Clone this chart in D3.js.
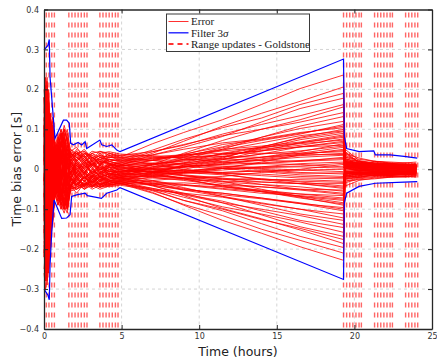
<!DOCTYPE html>
<html>
<head>
<meta charset="utf-8">
<script src="https://cdn.jsdelivr.net/npm/d3@7"></script>
<style>
  body { margin: 0; background: #fff; }
  svg text { font-family: "DejaVu Sans", sans-serif; }
</style>
</head>
<body>
<div id="chart"></div>
<script>
// time grid (hours) shared by every Monte Carlo run
var timeGrid = [0, 0.1, 0.2, 0.3, 0.4, 0.55, 0.7, 0.9, 1.1, 1.3, 1.5, 1.7, 2.1, 2.6, 3.1, 3.6, 4.2, 4.9,
                7, 9, 11.5, 14, 16.5, 19.3,
                19.4, 20.3, 21.3, 22.3, 23.3, 24];

// time bias error of each run, in milliseconds, at the times above
var errorRuns = [
  [40,180,120,60,90,40,-20,30,60,80,40,20,30,10,25,35,30,30, 64,92,124,162,202,236, 50,22,15,10,12,8],
  [-60,-150,-200,-120,-60,-20,30,-40,-10,30,-20,10,-15,5,20,-10,10,15, 40,70,108,140,170,206, 40,18,12,14,9,6],
  [100,210,150,90,110,60,20,60,80,100,70,35,40,25,10,30,20,25, 48,75,104,128,162,190, 30,25,20,16,14,10],
  [-120,-230,-160,-80,-120,-90,-40,-70,-30,-60,-40,-20,-10,-30,-5,-15,0,10, 36,55,82,118,152,178, 45,15,10,8,6,4],
  [20,90,200,140,40,-50,0,50,90,40,10,45,20,40,30,10,35,20, 44,60,88,112,134,162, 20,10,18,12,8,10],
  [-30,60,-80,-180,-100,-60,-10,-50,-70,-30,-60,-30,-40,-20,-35,-20,-25,-10, 12,40,72,100,124,156, 35,20,14,12,10,8],
  [150,230,100,40,130,100,50,20,-20,10,50,30,45,30,40,45,35,35, 44,62,84,100,118,142, 15,8,5,3,0,2],
  [-200,-280,-250,-150,-40,20,40,-30,-70,-90,-50,-25,-30,-45,-20,-40,-30,-20, 6,25,50,80,108,132, 28,12,20,15,10,12],
  [60,-40,40,150,60,0,-30,60,40,-10,30,5,20,35,10,25,15,5, 24,38,56,80,102,120, 10,5,-2,0,4,2],
  [-80,40,-10,-90,-150,-110,-60,-20,40,70,20,-10,0,-20,-30,-5,-10,-5, 10,30,54,72,88,112, 22,16,10,6,8,5],
  [10,120,170,100,20,-40,10,70,100,60,0,40,30,15,40,20,40,30, 36,50,66,76,92,104, 18,10,6,-4,-2,0],
  [-140,-200,-100,-30,-80,-120,-50,-10,-50,-80,-90,-40,-50,-30,-45,-25,-35,-30, -12,10,28,55,80,100, 25,20,12,10,6,8],
  [80,150,50,-40,40,80,60,40,-10,-40,20,50,40,45,20,40,20,12, 28,35,48,66,84,96, 12,6,4,2,0,-2],
  [-20,-100,-180,-90,0,40,-20,-60,-20,30,60,15,-20,0,-20,10,-15,-12, 4,14,30,52,74,90, -5,-3,2,-4,-6,-3],
  [0,60,100,200,110,70,0,20,70,110,80,30,45,20,30,15,25,18, 22,34,50,58,68,86, 8,-2,-6,-8,-10,-6],
  [-100,-160,-220,-260,-160,-70,-30,20,-30,-60,-20,-45,-15,-40,-15,-30,-10,-22, -8,10,24,46,66,80, 16,12,8,6,4,6],
  [120,200,160,80,-20,-80,-40,-70,-90,-50,-30,0,10,30,5,-20,10,0, 14,20,32,50,60,76, -12,-8,-4,-6,-4,-2],
  [-50,20,100,20,-60,-30,30,80,50,0,40,20,-10,20,-10,0,-5,8, 12,25,38,46,56,70, 6,2,-4,0,3,1],
  [30,-80,-150,-220,-130,-140,-60,-40,0,-20,-80,-35,-25,-10,-30,-20,-35,-28, -10,0,18,30,44,64, 20,14,12,8,10,8],
  [200,150,60,0,70,120,70,30,60,90,50,10,25,0,15,30,25,22, 30,30,36,46,56,60, -8,-10,-12,-8,-10,-8],
  [-180,-240,-130,-40,30,-20,-50,10,70,40,-10,-20,5,-25,0,-15,5,-15, -2,5,20,30,40,55, 2,0,-2,2,-1,0],
  [50,140,210,170,100,20,-20,-50,-80,-100,-60,-30,-40,-20,-40,-45,-40,-35, -18,-10,2,18,36,50, 14,18,12,14,12,10],
  [-40,-120,-60,40,140,90,40,60,20,50,90,50,35,50,25,45,40,34, 32,36,40,40,40,44, -15,-12,-8,-10,-12,-10],
  [90,30,-60,-130,-30,50,0,-30,30,60,10,-15,10,-10,20,-5,15,-6, 2,6,12,24,34,40, 4,6,8,4,6,4],
  [-250,-200,-100,-180,-90,-30,20,40,80,20,-40,25,50,35,5,20,-20,10, 16,15,16,22,30,35, -4,-6,-10,-6,-4,-5],
  [150,80,0,60,140,60,-30,-80,-40,0,-70,-20,-35,-50,-25,-40,-30,-18, -16,-6,6,14,20,30, 12,8,6,10,6,8],
  [-70,0,80,130,50,-70,-50,0,50,100,70,40,20,40,35,10,30,26, 22,24,26,22,20,24, -10,-14,-8,-12,-8,-6],
  [20,-60,-200,-140,-50,10,50,90,40,-30,-10,5,-25,-5,-35,-10,-20,-16, -8,-6,2,6,14,18, 6,2,0,2,-2,-1],
  [-160,-90,20,-60,-140,-80,10,-20,-60,-100,-70,-50,-45,-35,-40,-50,-42,-38, -28,-22,-18,-8,0,12, 16,10,14,12,8,9],
  [100,200,230,120,30,-40,-60,-90,-60,-20,30,45,55,30,45,40,44,38, 34,26,18,14,12,6, -18,-10,-6,-8,-9,-7],
  [-20,100,40,-100,-150,-90,-20,40,90,70,20,-10,15,-15,10,5,0,-4, -6,-3,2,2,-2,0, 3,-4,2,-2,0,1],
  [60,-30,-120,-60,60,110,60,20,-40,-80,-40,-40,-20,-30,-15,-25,-10,-14, -10,-10,-8,-4,-2,-6, 10,4,-2,2,4,2],
  [-90,-180,-260,-200,-120,-60,-50,-80,-40,10,-20,20,40,25,40,30,34,30, 22,12,4,0,-8,-12, -20,-16,-12,-14,-12,-10],
  [180,100,40,-30,10,70,30,-20,30,80,100,40,20,40,20,25,12,16, 8,6,2,-6,-14,-18, 8,12,4,6,2,4],
  [-40,40,150,80,-20,-100,-60,-20,40,20,60,30,0,10,-5,-10,5,-2, -6,-8,-10,-16,-22,-24, -6,-2,-6,-4,-6,-5],
  [-130,-60,30,-20,-80,-20,40,80,60,30,-30,10,-10,-30,-15,-30,-15,-20, -18,-22,-26,-26,-26,-30, 18,14,10,12,10,12],
  [70,160,80,0,80,130,70,50,10,-40,-80,-50,-35,-20,-40,-20,-28,-24, -22,-26,-30,-32,-36,-36, -14,-8,-10,-6,-10,-8],
  [-210,-130,-60,-120,-200,-130,-40,-60,-90,-60,-10,-25,10,-10,15,0,12,4, 0,-8,-14,-24,-32,-42, 0,6,2,4,2,2],
  [30,-40,60,180,100,0,-40,-10,20,80,60,15,30,15,20,35,20,24, 14,0,-12,-26,-36,-48, -24,-18,-14,-16,-14,-12],
  [-60,-160,-90,-20,-100,-50,20,60,90,60,20,-30,-10,20,-10,5,-5,-10, -14,-22,-32,-38,-44,-55, 12,8,6,8,6,6],
  [130,60,-40,-100,-40,30,60,-10,-60,-30,30,35,15,-5,15,-10,6,2, -8,-16,-24,-38,-50,-60, -8,-4,-2,-6,-4,-2],
  [-30,40,130,60,0,-40,-30,-60,-90,-110,-80,-40,-50,-40,-30,-45,-35,-32, -38,-40,-44,-52,-62,-66, 4,-4,-8,-10,-6,-6],
  [-170,-260,-190,-80,-10,40,0,30,-20,-50,-90,-45,-20,-45,-20,-30,-22,-26, -30,-38,-48,-56,-62,-72, 22,16,8,10,12,10],
  [90,180,100,30,-60,-120,-60,-20,20,50,0,20,-5,-25,0,-20,-5,-8, -20,-28,-40,-54,-68,-78, -16,-20,-14,-12,-12,-14],
  [-50,-120,-170,-250,-170,-60,20,50,-10,-40,-30,-10,20,0,30,15,20,12, 0,-16,-30,-50,-68,-84, 6,10,4,6,2,4],
  [40,110,40,-40,60,100,50,70,100,70,40,40,30,20,0,20,10,6, -8,-24,-42,-56,-70,-90, -30,-22,-18,-16,-18,-14],
  [-120,-50,50,-50,-140,-100,-50,-70,-30,20,-40,-50,-30,-50,-40,-35,-40,-34, -40,-52,-60,-72,-86,-96, 14,4,0,-2,0,-2],
  [180,120,20,-60,-130,-80,-30,10,40,-10,-60,-5,-40,-15,-45,-25,-30,-28, -36,-48,-64,-74,-86,-104, -4,-10,-16,-12,-14,-10],
  [-60,-220,-280,-200,-60,60,30,-40,-90,-70,-100,-40,-60,-35,-50,-40,-44,-40, -52,-60,-70,-86,-100,-112, 26,18,12,14,10,12],
  [20,80,170,120,40,-20,-70,-30,10,60,20,30,20,0,-20,0,-10,-16, -28,-46,-68,-84,-100,-122, -10,-6,-12,-14,-10,-8],
  [-100,-40,-150,-220,-110,-20,30,0,-30,-100,-60,-25,0,-25,-10,-25,-18,-22, -34,-52,-68,-90,-112,-128, 18,10,6,8,10,8],
  [60,-20,-100,-40,-80,-140,-70,-40,-10,30,-40,-40,-50,-40,-30,-45,-38,-36, -48,-64,-84,-100,-116,-138, -26,-20,-16,-18,-20,-16],
  [-220,-160,-60,40,-30,-100,-40,20,50,-20,-100,-55,-40,-20,-35,-15,-28,-30, -48,-62,-80,-104,-128,-146, 8,0,-6,-4,-2,-4],
  [110,40,-60,-140,-180,-120,-60,-90,-60,-30,-70,-20,-35,-50,-35,-45,-32,-36, -50,-70,-94,-112,-132,-158, -34,-24,-20,-18,-16,-18],
  [-140,-250,-170,-60,40,0,-50,-20,20,-10,40,10,-10,10,-10,-20,-12,-20, -42,-60,-84,-114,-144,-168, 30,20,16,14,16,14],
  [0,-100,-40,-160,-60,-130,-60,-80,-100,-80,-100,-50,-45,-30,-45,-35,-40,-34, -54,-78,-100,-126,-148,-176, -20,-14,-10,-12,-14,-12],
  [-190,-280,-210,-100,-150,-70,0,-50,-80,-40,0,-20,-40,-20,-10,-30,-20,-24, -40,-66,-98,-124,-152,-186, 40,28,20,18,16,18],
  [50,-60,-150,-260,-200,-110,-40,-10,-50,-100,-50,-30,-20,-45,-25,-40,-30,-30, -52,-78,-104,-136,-168,-196, -42,-28,-22,-20,-18,-16],
  [-80,-200,-290,-220,-140,-100,-60,-30,-70,-90,-110,-55,-50,-35,-45,-30,-38,-36, -60,-88,-116,-150,-178,-210, 24,12,8,10,6,8],
  [-260,-300,-240,-130,-60,-120,-70,-50,-20,-60,-80,-40,-25,-40,-30,-38,-30,-34, -58,-90,-128,-160,-194,-228, -30,-26,-24,-20,-18,-20],
  [60,140,90,-20,50,110,50,-30,-60,-20,40,20,0,25,10,20,15,8, 22,36,62,74,90,108, -12,-6,-2,-4,-6,-4],
  [-40,20,150,90,-30,-90,-50,10,60,90,40,-10,20,-10,25,0,-5,-12, 2,16,40,56,78,94, 20,14,10,8,10,6],
  [110,-20,-140,-60,40,20,-20,-60,-100,-70,-30,25,-20,15,-15,15,5,0, 12,22,38,54,66,83, -2,2,6,4,2,3],
  [-90,-190,-90,40,120,50,0,40,70,30,-50,-15,25,45,30,10,25,20, 26,32,46,54,64,73, 10,6,4,8,4,5],
  [20,110,190,60,-60,-100,-30,-60,-20,50,80,30,-10,-30,-20,-35,-25,-20, -6,6,24,38,56,67, -16,-12,-10,-8,-10,-9],
  [-170,-80,40,130,70,0,40,60,90,20,-20,-40,-30,-10,10,-5,-15,-5, 6,16,26,38,46,58, 4,-2,2,0,2,1],
  [140,200,60,-80,-110,-40,20,-20,-50,-90,-60,-25,-40,-20,-35,-20,-10,-14, -4,6,14,26,38,47, 16,12,8,10,8,7],
  [-20,-130,-220,-120,-30,80,50,20,-30,0,50,45,35,20,35,25,30,28, 28,30,32,30,36,37, -22,-16,-12,-10,-12,-10],
  [70,20,-50,20,100,60,-40,-60,30,80,20,-10,-30,10,-10,10,0,-8, 0,6,12,16,22,27, 8,4,6,2,4,3],
  [-110,-200,-150,-50,50,30,-20,30,70,40,-40,-30,10,-15,-25,-10,-20,-24, -14,-8,-2,6,8,15, -6,-10,-6,-8,-6,-5],
  [30,150,220,150,60,-50,-70,-40,20,-20,-40,20,40,30,10,30,15,18, 14,10,8,4,6,3, 12,8,4,6,8,6],
  [-60,-10,90,-40,-120,-60,0,70,40,-30,-70,-45,-25,-40,-20,-10,-5,-6, -6,-2,-8,-4,-10,-9, -12,-8,-10,-6,-8,-6],
  [100,40,-100,-180,-110,0,30,-10,-70,-40,30,35,10,-10,-20,0,8,10, 2,-4,-10,-12,-18,-21, 2,-2,0,-4,-2,-1],
  [-150,-260,-180,-80,20,60,30,-40,20,60,-20,-20,-5,20,5,-20,-12,-16, -20,-16,-24,-24,-30,-33, 14,10,12,8,10,9],
  [40,-50,-160,-90,-20,-70,-40,10,60,100,70,10,40,20,30,20,14,6, -6,-14,-22,-32,-36,-45, -24,-20,-14,-16,-12,-12],
  [-30,80,160,70,-30,40,60,20,-30,-60,-90,-40,-10,-30,-40,-30,-36,-30, -36,-34,-40,-44,-50,-52, 6,10,6,4,6,5],
  [180,60,-60,-20,60,90,0,-40,-80,-40,10,-20,-45,-20,-5,10,-5,0, -16,-22,-36,-44,-52,-63, -8,-12,-8,-10,-6,-8],
  [-220,-140,-40,-120,-180,-100,-30,20,-20,-70,-100,-50,-20,-40,-15,-40,-25,-20, -32,-40,-50,-60,-66,-75, 18,12,8,10,12,10],
  [90,30,-110,-230,-150,-20,40,60,30,-10,20,0,-20,5,20,0,10,14, -12,-24,-44,-56,-72,-87, -18,-12,-16,-14,-12,-12],
  [-10,-90,10,110,30,-90,-60,-30,-90,-100,-30,-10,15,-5,-25,-20,-30,-26, -40,-50,-60,-72,-84,-100, 10,2,4,0,2,0]
];

// filter 3-sigma bound (seconds)
var sigmaUpTimes = [0, 0.25, 0.34, 0.39, 0.5, 0.56, 0.71, 1.25, 1.46, 1.63, 1.72, 1.89, 2.2, 2.43, 2.65, 2.75,
                    3.6, 3.72, 4.04, 4.37, 4.69, 4.9, 19.3, 19.35, 19.5, 20.3, 21.25, 21.35, 22.3, 23.2, 24.05];
var sigmaUp = [0.298, 0.31, 0.325, 0.23, 0.178, 0.148, 0.077, 0.123, 0.123, 0.115, 0.065, 0.061, 0.067, 0.061, 0.069, 0.052,
               0.073, 0.061, 0.057, 0.061, 0.048, 0.044, 0.276, 0.082, 0.052, 0.044, 0.046, 0.036, 0.036, 0.032, 0.028];
var sigmaLowTimes = [0, 0.25, 0.34, 0.39, 0.5, 0.65, 1.14, 1.46, 1.68, 1.78, 2.1, 2.65, 2.8, 3.7, 4.04, 4.69, 4.9,
                     19.3, 19.35, 19.5, 20.3, 21.35, 23.2, 24.05];
var sigmaLow = [-0.30, -0.315, -0.327, -0.24, -0.156, -0.077, -0.123, -0.122, -0.114, -0.068, -0.064, -0.06, -0.066, -0.073, -0.06, -0.052, -0.046,
                -0.276, -0.085, -0.06, -0.043, -0.035, -0.032, -0.031];

// range update epochs (hours)
var rangeUpdates = [0.15, 0.32, 0.5, 0.67,
                    1.6, 1.8, 2.0, 2.2, 2.4, 2.6, 2.77,
                    3.6, 3.8, 4.0, 4.2, 4.4, 4.6, 4.77,
                    19.3, 19.5, 19.7, 19.9, 20.1, 20.3, 20.45,
                    21.3, 21.5, 21.7, 21.9, 22.1, 22.3, 22.45,
                    23.3, 23.5, 23.7, 23.9, 24.08];

var xTicks = [0, 5, 10, 15, 20, 25];
var yTicks = [-0.4, -0.3, -0.2, -0.1, 0, 0.1, 0.2, 0.3, 0.4];
var legendLabels = ["Error", "Filter 3σ", "Range updates - Goldstone"];

var svgWidth = 437, svgHeight = 362;
var margin = { top: 9.5, right: 5, bottom: 33, left: 44 };
var chartWidth = svgWidth - margin.left - margin.right;
var chartHeight = svgHeight - margin.top - margin.bottom;

var svg = d3.select("#chart").append("svg")
    .attr("width", svgWidth)
    .attr("height", svgHeight);

var chartGroup = svg.append("g")
    .attr("transform", `translate(${margin.left}, ${margin.top})`);

var x = d3.scaleLinear().domain([0, 25]).range([0, chartWidth]);
var y = d3.scaleLinear().domain([-0.4, 0.4]).range([chartHeight, 0]);

// grid
chartGroup.append("g").selectAll("line").data(xTicks.slice(1, -1)).enter().append("line")
    .attr("x1", d => x(d)).attr("x2", d => x(d))
    .attr("y1", 0).attr("y2", chartHeight)
    .attr("stroke", "#d4d4d4").attr("stroke-dasharray", "3,3");
chartGroup.append("g").selectAll("line").data(yTicks.slice(1, -1)).enter().append("line")
    .attr("x1", 0).attr("x2", chartWidth)
    .attr("y1", d => y(d)).attr("y2", d => y(d))
    .attr("stroke", "#d4d4d4").attr("stroke-dasharray", "3,3");

// range updates
chartGroup.append("g").selectAll("line").data(rangeUpdates).enter().append("line")
    .attr("x1", d => x(d)).attr("x2", d => x(d))
    .attr("y1", 3).attr("y2", chartHeight)
    .attr("stroke", "#ff4040")
    .attr("stroke-opacity", 0.8)
    .attr("stroke-width", 1.4)
    .attr("stroke-dasharray", "5,5");

// error runs
var runLine = d3.line()
    .x((d, i) => x(timeGrid[i]))
    .y(d => y(d / 1000));
chartGroup.append("g").selectAll("path").data(errorRuns).enter().append("path")
    .attr("d", runLine)
    .attr("fill", "none")
    .attr("stroke", "#ff0000")
    .attr("stroke-width", 0.8);

// filter 3 sigma
var upLine = d3.line().x((d, i) => x(sigmaUpTimes[i])).y(d => y(d));
var lowLine = d3.line().x((d, i) => x(sigmaLowTimes[i])).y(d => y(d));
chartGroup.append("path").attr("d", upLine(sigmaUp))
    .attr("fill", "none").attr("stroke", "#0000ff").attr("stroke-width", 1.2);
chartGroup.append("path").attr("d", lowLine(sigmaLow))
    .attr("fill", "none").attr("stroke", "#0000ff").attr("stroke-width", 1.2);

// axes, matlab style box with inward ticks
chartGroup.append("g")
    .attr("transform", `translate(0, ${chartHeight})`)
    .call(d3.axisBottom(x).tickValues(xTicks).tickSizeInner(-4).tickSizeOuter(0).tickPadding(4));
chartGroup.append("g")
    .call(d3.axisLeft(y).tickValues(yTicks).tickSizeInner(-4).tickSizeOuter(0).tickPadding(5)
        .tickFormat(d => d3.format("")(+d.toFixed(1))));
chartGroup.append("g")
    .call(d3.axisTop(x).tickValues(xTicks).tickSizeInner(-4).tickSizeOuter(0).tickFormat(""));
chartGroup.append("g")
    .attr("transform", `translate(${chartWidth}, 0)`)
    .call(d3.axisRight(y).tickValues(yTicks).tickSizeInner(-4).tickSizeOuter(0).tickFormat(""));

chartGroup.selectAll(".domain").attr("stroke", "#262626").attr("stroke-width", 1.3);
chartGroup.selectAll(".tick line").attr("stroke", "#262626");
chartGroup.selectAll(".tick text")
    .style("font-family", "DejaVu Sans")
    .style("font-size", "8px")
    .attr("fill", "#333");

// legend
var legend = svg.append("g").attr("transform", "translate(166.5, 14)");
legend.append("rect")
    .attr("width", 143).attr("height", 37.5)
    .attr("fill", "#fff").attr("stroke", "#3a3a3a").attr("stroke-width", 1);
var legendStyles = [
    { color: "#ff3030", dash: null, w: 1 },
    { color: "#2020ff", dash: null, w: 1.4 },
    { color: "#ff3030", dash: "5,4", w: 2 }
];
legendLabels.forEach(function(label, i) {
    var row = 7.5 + i * 11.3;
    legend.append("line")
        .attr("x1", 2).attr("x2", 22).attr("y1", row).attr("y2", row)
        .attr("stroke", legendStyles[i].color)
        .attr("stroke-width", legendStyles[i].w)
        .attr("stroke-dasharray", legendStyles[i].dash);
    var t = legend.append("text")
        .attr("x", 24.5).attr("y", row + 3.8)
        .style("font-family", "'Liberation Serif', serif")
        .style("font-size", "11px")
        .attr("fill", "#222");
    if (i === 1) {
        t.append("tspan").text("Filter 3");
        t.append("tspan").style("font-style", "italic").text("σ");
    } else {
        t.text(label);
    }
});

// axis labels
svg.append("text")
    .attr("transform", `translate(21, ${margin.top + chartHeight / 2}) rotate(-90)`)
    .attr("text-anchor", "middle")
    .style("font-size", "12.5px")
    .attr("fill", "#222")
    .text("Time bias error [s]");

svg.append("text")
    .attr("x", margin.left + chartWidth / 2)
    .attr("y", 356)
    .attr("text-anchor", "middle")
    .style("font-size", "12.5px")
    .attr("fill", "#222")
    .text("Time (hours)");
</script>
</body>
</html>
